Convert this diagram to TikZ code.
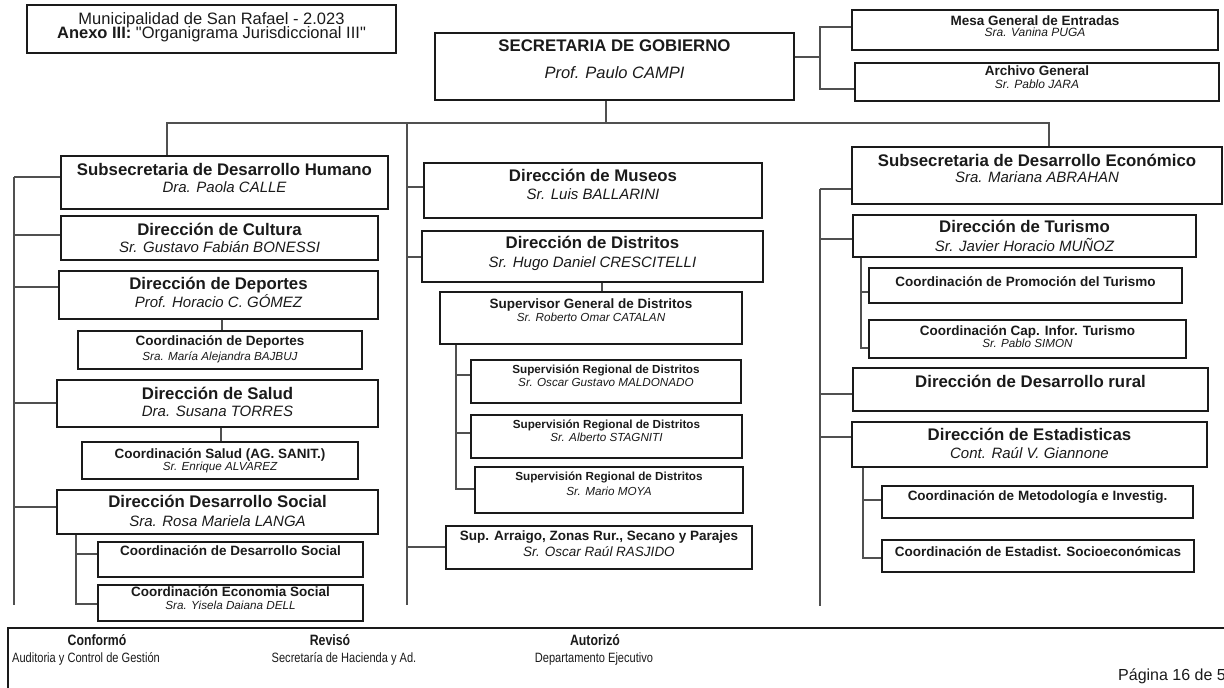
\documentclass[tikz,border=0pt]{standalone}
\usepackage{fontspec}
\setmainfont{Liberation Sans}
\newfontfamily\plainfont{Liberation Sans}
\newfontfamily\narrowfont{Liberation Sans}[FakeStretch=0.82]
\usetikzlibrary{fit}
\definecolor{ink}{HTML}{1A1A1A}
\definecolor{wire}{HTML}{505050}
\tikzset{
  box/.style={draw=ink, line width=1.2pt, inner sep=0pt},
  conn/.style={draw=wire, line width=1.4pt},
  txt/.style={inner sep=0pt, anchor=base, text=ink},
  tr/.style={txt, font=\fontsize{16.5}{20}\selectfont\plainfont},
  hb/.style={txt, font=\fontsize{16.8}{20}\selectfont\bfseries},
  hi/.style={txt, font=\fontsize{15}{18}\selectfont\itshape},
  hil/.style={txt, font=\fontsize{16.5}{20}\selectfont\itshape},
  sb/.style={txt, font=\fontsize{13.5}{16}\selectfont\bfseries},
  sim/.style={txt, font=\fontsize{13.5}{16}\selectfont\itshape},
  si/.style={txt, font=\fontsize{11.7}{14}\selectfont\itshape},
  sit/.style={txt, font=\fontsize{12}{14}\selectfont\itshape},
  tb/.style={txt, font=\fontsize{11.7}{14}\selectfont\bfseries},
  fb/.style={txt, font=\fontsize{15}{18}\selectfont\narrowfont\bfseries},
  fr/.style={txt, font=\fontsize{13.5}{16}\selectfont\narrowfont},
  pg/.style={txt, font=\fontsize{16}{19}\selectfont},
}
\newcommand\bx[5]{\node[box, fit={(#2,#3) (#4,#5)}] (#1) {};}
\newcommand\tx[5]{\node[#2] (#1) at (#3.north |- 0,#4) {#5};}
\newcommand\tick[3]{\draw[conn] (#1 |- 0,#3) -- (#2.west |- 0,#3);}
\begin{document}
\begin{tikzpicture}[x=1pt,y=-1pt]
\useasboundingbox (0,0) rectangle (1224,688);
% ---------- boxes ----------
\bx{title}{27}{5}{396}{53}
\bx{sec}{435}{33}{794}{100}
\bx{mesa}{852}{10}{1218}{50}
\bx{arch}{855}{63}{1219}{101}
\bx{subH}{61}{156}{388}{209}
\bx{cult}{61}{216}{378}{260}
\bx{dep}{59}{271}{378}{319}
\bx{cdep}{78}{331}{362}{369}
\bx{salud}{57}{380}{378}{427}
\bx{csal}{82}{442}{358}{479}
\bx{dsoc}{57}{490}{378}{534}
\bx{cdsoc}{98}{542}{363}{577}
\bx{cecon}{98}{585}{363}{621}
\bx{mus}{424}{163}{762}{218}
\bx{dist}{422}{231}{763}{282}
\bx{supg}{440}{292}{742}{344}
\bx{sra}{471}{360}{741}{403}
\bx{srb}{471}{415}{742}{458}
\bx{src}{475}{467}{743}{513}
\bx{arr}{446}{526}{752}{569}
\bx{subE}{852}{147}{1222}{204}
\bx{tur}{853}{215}{1196}{257}
\bx{cprom}{869}{268}{1182}{303}
\bx{ccap}{869}{320}{1186}{358}
\bx{rural}{853}{368}{1208}{411}
\bx{est}{852}{422}{1207}{467}
\bx{cmet}{882}{486}{1193}{518}
\bx{cest}{882}{540}{1194}{572}
\bx{foot}{8}{628}{1260}{710}
% ---------- texts ----------
\tx{title-a}{tr}{title}{24}{Municipalidad de San Rafael - 2.023}
\tx{title-b}{tr}{title}{38.5}{\textbf{Anexo III:} "Organigrama Jurisdiccional III"}
\tx{sec-a}{hb}{sec}{51.7}{SECRETARIA DE GOBIERNO}
\tx{sec-b}{hil}{sec}{78}{Prof. Paulo CAMPI}
\tx{mesa-a}{sb}{mesa}{25}{Mesa General de Entradas}
\tx{mesa-b}{sit}{mesa}{36.7}{Sra. Vanina PUGA}
\tx{arch-a}{sb}{arch}{75}{Archivo General}
\tx{arch-b}{sit}{arch}{88}{Sr. Pablo JARA}
\tx{subH-a}{hb}{subH}{175}{Subsecretaria de Desarrollo Humano}
\tx{subH-b}{hi}{subH}{192.3}{Dra. Paola CALLE}
\tx{cult-a}{hb}{cult}{235}{Dirección de Cultura}
\tx{cult-b}{hi}{cult}{252.7}{Sr. Gustavo Fabián BONESSI}
\tx{dep-a}{hb}{dep}{289}{Dirección de Deportes}
\tx{dep-b}{hi}{dep}{307.7}{Prof. Horacio C. GÓMEZ}
\tx{cdep-a}{sb}{cdep}{345.7}{Coordinación de Deportes}
\tx{cdep-b}{si}{cdep}{360}{Sra. María Alejandra BAJBUJ}
\tx{salud-a}{hb}{salud}{399}{Dirección de Salud}
\tx{salud-b}{hi}{salud}{416}{Dra. Susana TORRES}
\tx{csal-a}{sb}{csal}{458.3}{Coordinación Salud (AG. SANIT.)}
\tx{csal-b}{si}{csal}{470.7}{Sr. Enrique ALVAREZ}
\tx{dsoc-a}{hb}{dsoc}{507.3}{Dirección Desarrollo Social}
\tx{dsoc-b}{hi}{dsoc}{526}{Sra. Rosa Mariela LANGA}
\tx{cdsoc-a}{sb}{cdsoc}{555}{Coordinación de Desarrollo Social}
\tx{cecon-a}{sb}{cecon}{596}{Coordinación Economia Social}
\tx{cecon-b}{si}{cecon}{609.5}{Sra. Yisela Daiana DELL}
\tx{mus-a}{hb}{mus}{181.7}{Dirección de Museos}
\tx{mus-b}{hi}{mus}{199.3}{Sr. Luis BALLARINI}
\tx{dist-a}{hb}{dist}{248.3}{Dirección de Distritos}
\tx{dist-b}{hi}{dist}{267.7}{Sr. Hugo Daniel CRESCITELLI}
\tx{supg-a}{sb}{supg}{308.3}{Supervisor General de Distritos}
\tx{supg-b}{si}{supg}{321.7}{Sr. Roberto Omar CATALAN}
\tx{sra-a}{tb}{sra}{373.3}{Supervisión Regional de Distritos}
\tx{sra-b}{si}{sra}{386.7}{Sr. Oscar Gustavo MALDONADO}
\tx{srb-a}{tb}{srb}{428.3}{Supervisión Regional de Distritos}
\tx{srb-b}{si}{srb}{441.7}{Sr. Alberto STAGNITI}
\tx{src-a}{tb}{src}{480.7}{Supervisión Regional de Distritos}
\tx{src-b}{si}{src}{495}{Sr. Mario MOYA}
\tx{arr-a}{sb}{arr}{540.7}{Sup. Arraigo, Zonas Rur., Secano y Parajes}
\tx{arr-b}{sim}{arr}{556.7}{Sr. Oscar Raúl RASJIDO}
\tx{subE-a}{hb}{subE}{166}{Subsecretaria de Desarrollo Económico}
\tx{subE-b}{hi}{subE}{182.7}{Sra. Mariana ABRAHAN}
\tx{tur-a}{hb}{tur}{232.7}{Dirección de Turismo}
\tx{tur-b}{hi}{tur}{251}{Sr. Javier Horacio MUÑOZ}
\tx{cprom-a}{sb}{cprom}{286.7}{Coordinación de Promoción del Turismo}
\tx{ccap-a}{sb}{ccap}{335}{Coordinación Cap. Infor. Turismo}
\tx{ccap-b}{si}{ccap}{347.3}{Sr. Pablo SIMON}
\tx{rural-a}{hb}{rural}{387.7}{Dirección de Desarrollo rural}
\tx{est-a}{hb}{est}{440.7}{Dirección de Estadisticas}
\tx{est-b}{hi}{est}{458.3}{Cont. Raúl V. Giannone}
\tx{cmet-a}{sb}{cmet}{500.7}{Coordinación de Metodología e Investig.}
\tx{cest-a}{sb}{cest}{556.7}{Coordinación de Estadist. Socioeconómicas}
% footer texts
\node[fb] (f1) at (97,645) {Conformó};
\node[fr] (f1b) at (86,662) {Auditoria y Control de Gestión};
\node[fb] (f2) at (330,645) {Revisó};
\node[fr] (f2b) at (344,662) {Secretaría de Hacienda y Ad.};
\node[fb] (f3) at (595,645) {Autorizó};
\node[fr] (f3b) at (594,662) {Departamento Ejecutivo};
\node[pg, anchor=base west] (pg) at (1118,680) {Página 16 de 5};
% ---------- connectors ----------
\coordinate (top) at (606,123);
\coordinate (busL) at (167,123);
\coordinate (busM) at (407,123);
\coordinate (busR) at (1049,123);
\coordinate (midEnd) at (407,605);
\coordinate (j1) at (820,57);
\coordinate (jt) at (820,27);
\coordinate (jb) at (820,89);
\draw[conn] (sec.south -| top) -- (top);
\draw[conn] (subH.north -| busL) -- (busL) -- (busR) -- (subE.north -| busR);
\draw[conn] (busM) -- (midEnd);
\draw[conn] (sec.east |- j1) -- (j1);
\draw[conn] (mesa.west |- jt) -- (jt) -- (jb) -- (arch.west |- jb);
% left column
\coordinate (lTop) at (14,177);
\coordinate (lEnd) at (14,605);
\draw[conn] (lTop) -- (lEnd);
\tick{lTop}{subH}{177}
\tick{lTop}{cult}{235}
\tick{lTop}{dep}{287}
\tick{lTop}{salud}{403}
\tick{lTop}{dsoc}{507}
\coordinate (c3) at (222,0);
\draw[conn] (dep.south -| c3) -- (cdep.north -| c3);
\coordinate (c4) at (221,0);
\draw[conn] (salud.south -| c4) -- (csal.north -| c4);
\coordinate (b1) at (76,604);
\draw[conn] (dsoc.south -| b1) -- (b1) -- (cecon.west |- b1);
\tick{b1}{cdsoc}{554}
% middle column
\tick{busM}{mus}{187}
\tick{busM}{dist}{257}
\tick{busM}{arr}{547}
\coordinate (c2) at (602,0);
\draw[conn] (dist.south -| c2) -- (supg.north -| c2);
\coordinate (b2) at (456,489);
\draw[conn] (supg.south -| b2) -- (b2) -- (src.west |- b2);
\tick{b2}{sra}{375}
\tick{b2}{srb}{433}
% right column
\coordinate (rTop) at (820,189);
\coordinate (rEnd) at (820,606);
\draw[conn] (rTop) -- (rEnd);
\tick{rTop}{subE}{189}
\tick{rTop}{tur}{239}
\tick{rTop}{rural}{394}
\tick{rTop}{est}{437}
\coordinate (b3) at (861,348);
\draw[conn] (tur.south -| b3) -- (b3) -- (ccap.west |- b3);
\tick{b3}{cprom}{292}
\coordinate (b4) at (863,558);
\draw[conn] (est.south -| b4) -- (b4) -- (cest.west |- b4);
\tick{b4}{cmet}{500}
\end{tikzpicture}
\end{document}
